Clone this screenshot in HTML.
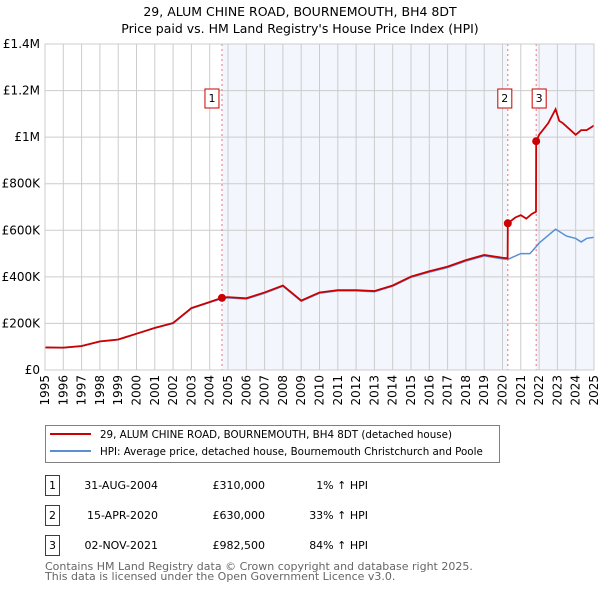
<!DOCTYPE html>
<html><head><meta charset="utf-8"><style>
body{margin:0;background:#fff;font-family:"Liberation Sans","DejaVu Sans",sans-serif;}
svg text{font-family:"DejaVu Sans","Liberation Sans",sans-serif;}
</style></head><body>
<svg id="c" width="600" height="590" xmlns="http://www.w3.org/2000/svg">
<text x="300" y="16" text-anchor="middle" font-size="12.5" fill="#000">29, ALUM CHINE ROAD, BOURNEMOUTH, BH4 8DT</text>
<text x="300" y="33" text-anchor="middle" font-size="12.5" fill="#000">Price paid vs. HM Land Registry's House Price Index (HPI)</text>
<g id="plot"></g>
<rect x="45.5" y="425.5" width="454" height="37" fill="#fff" stroke="#808080"/>
<line x1="50" y1="434" x2="91" y2="434" stroke="#cc0000" stroke-width="2"/>
<text x="100" y="438" font-size="10.3">29, ALUM CHINE ROAD, BOURNEMOUTH, BH4 8DT (detached house)</text>
<line x1="50" y1="451" x2="91" y2="451" stroke="#5b8fd4" stroke-width="2"/>
<text x="100" y="455" font-size="10.3">HPI: Average price, detached house, Bournemouth Christchurch and Poole</text>
<g id="tbl" font-size="11"></g>
<text x="45" y="570" font-size="11" fill="#666">Contains HM Land Registry data © Crown copyright and database right 2025.</text>
<text x="45" y="580" font-size="11" fill="#666">This data is licensed under the Open Government Licence v3.0.</text>
</svg>
<script>
const hpiYears=[1995,1996,1997,1998,1999,2000,2001,2002,2003,2004,2004.67,2005,2006,2007,2008,2009,2010,2011,2012,2013,2014,2015,2016,2017,2018,2019,2020,2020.29,2021,2021.5,2021.84,2022,2022.9,2023.5,2024,2024.3,2024.6,2025];
const hpiValues=[96,95,102,122,130,155,180,200,264,290,307,310,305,330,360,295,330,340,340,336,360,398,420,440,468,490,477,475,500,500,530,545,605,575,565,550,565,570];
const redYears=[1995,1996,1997,1998,1999,2000,2001,2002,2003,2004,2004.67,2005,2006,2007,2008,2009,2010,2011,2012,2013,2014,2015,2016,2017,2018,2019,2020,2020.28,2020.29,2020.7,2021,2021.3,2021.6,2021.83,2021.84,2022,2022.5,2022.9,2023.1,2023.3,2024,2024.3,2024.6,2025];
const redValues=[97,96,103,123,131,156,181,202,266,292,310,313,308,333,363,298,333,343,343,339,363,401,424,444,472,494,482,480,630,655,665,650,670,680,982.5,1010,1060,1120,1070,1060,1010,1030,1030,1050];
const saleYears=[2004.67,2020.29,2021.84];
const saleValues=[310,630,982.5];
const saleLabels=["1","2","3"];
const saleDates=["31-AUG-2004","15-APR-2020","02-NOV-2021"];
const salePrices=["£310,000","£630,000","£982,500"];
const saleHpi=["1% ↑ HPI","33% ↑ HPI","84% ↑ HPI"];
const yTicks=[0,200,400,600,800,1000,1200,1400];
const yTickLabels=["£0","£200K","£400K","£600K","£800K","£1M","£1.2M","£1.4M"];
const xTicks=[1995,1996,1997,1998,1999,2000,2001,2002,2003,2004,2005,2006,2007,2008,2009,2010,2011,2012,2013,2014,2015,2016,2017,2018,2019,2020,2021,2022,2023,2024,2025];

const X0=45,X1=594,Y0=370,Y1=44;
const xs=y=>X0+(y-1995)/30*(X1-X0);
const ys=v=>Y0-v/1400*(Y0-Y1);
const NS="http://www.w3.org/2000/svg";
const g=document.getElementById('plot');
function mk(t,a,p){const e=document.createElementNS(NS,t);for(const k in a)e.setAttribute(k,a[k]);(p||g).appendChild(e);return e;}
let e;
e=mk('rect',{x:xs(saleYears[0]),y:Y1,width:xs(saleYears[1])-xs(saleYears[0]),height:Y0-Y1,fill:'#f3f6fd'});


e=mk('rect',{x:xs(saleYears[2]),y:Y1,width:X1-xs(saleYears[2]),height:Y0-Y1,fill:'#f3f6fd'});


yTicks.forEach((v,i)=>{
 e=mk('line',{x1:X0,x2:X1,y1:ys(v),y2:ys(v),stroke:'#ccc'});
 
 
 e=mk('text',{x:40,y:ys(v)+4,'text-anchor':'end','font-size':12});
 
 
 e.textContent=yTickLabels[i];
});
xTicks.forEach(yr=>{
 e=mk('line',{x1:xs(yr),x2:xs(yr),y1:Y1,y2:Y0,stroke:'#ccc'});
 
 
 e=mk('text',{x:0,y:0,'text-anchor':'end','font-size':12,transform:`translate(${xs(yr)+4},375) rotate(-90)`});
 
 
 e.textContent=yr;
});
saleYears.forEach((yr,i)=>{
 e=mk('line',{x1:xs(yr),x2:xs(yr),y1:Y1,y2:Y0,stroke:'#f07070','stroke-dasharray':'2,3'});
 
 
});
e=mk('polyline',{points:hpiYears.map((y,i)=>xs(y)+','+ys(hpiValues[i])).join(' '),fill:'none',stroke:'#5b8fd4','stroke-width':1.5});


e=mk('polyline',{points:redYears.map((y,i)=>xs(y)+','+ys(redValues[i])).join(' '),fill:'none',stroke:'#cc0000','stroke-width':1.8});


saleYears.forEach((yr,i)=>{
 e=mk('circle',{cx:xs(yr),cy:ys(saleValues[i]),r:4,fill:'#cc0000'});
 
 
 const bx=xs(yr)-(i==0?10:i==1?3:-3)-7;
 e=mk('rect',{x:bx,y:89,width:14,height:19,fill:'#fff',stroke:'#cc0000'});
 
 
 e=mk('text',{x:bx+7,y:102,'text-anchor':'middle','font-size':11});
 
 
 e.textContent=saleLabels[i];
});
mk('rect',{x:X0,y:Y1,width:X1-X0,height:Y0-Y1,fill:'none',stroke:'#ccc'});
const t=document.getElementById('tbl');
saleLabels.forEach((l,i)=>{
 const yy=483+i*30;
 e=mk('rect',{x:45.5,y:yy-7.5,width:14,height:20,fill:'#fff',stroke:'#cc0000'},t);
 
 
 e=mk('text',{x:52.5,y:yy+6,'text-anchor':'middle'},t);e.textContent=l;
 
 
 e=mk('text',{x:158,y:yy+6,'text-anchor':'end'},t);e.textContent=saleDates[i];
 
 
 e=mk('text',{x:265,y:yy+6,'text-anchor':'end'},t);e.textContent=salePrices[i];
 
 
 e=mk('text',{x:368,y:yy+6,'text-anchor':'end'},t);e.textContent=saleHpi[i];
 
 
});
</script>
</body></html>
